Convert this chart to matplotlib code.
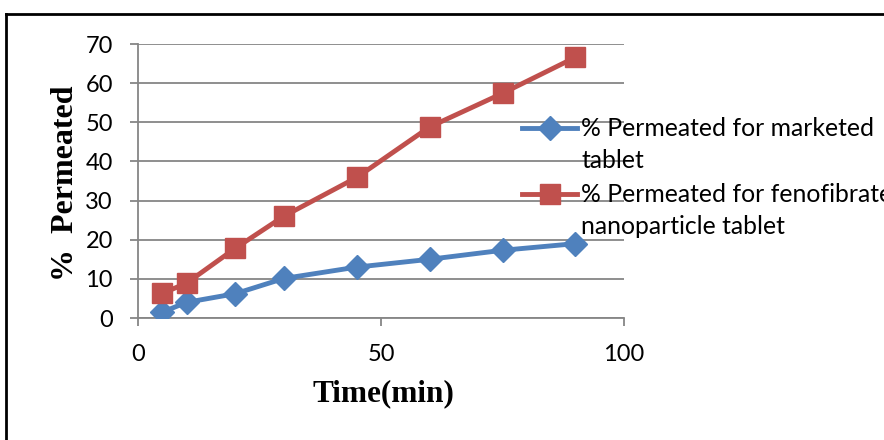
"""Permeation profile: marketed tablet vs fenofibrate nanoparticle tablet."""

import matplotlib

matplotlib.use("Agg")
import matplotlib.pyplot as plt
from matplotlib.lines import Line2D

TIME_MIN = [5, 10, 20, 30, 45, 60, 75, 90]
MARKETED = [1.5, 4.0, 6.2, 10.1, 13.0, 15.0, 17.3, 19.0]
NANO = [6.3, 8.9, 17.8, 26.0, 35.9, 48.8, 57.4, 66.6]
LABELS = [
    ["% Permeated for marketed", "tablet"],
    ["% Permeated for fenofibrate", "nanoparticle tablet"],
]

BLUE = "#4F81BD"
RED = "#C0504D"
GRID = "#868686"
W, H = 884, 440

fig = plt.figure(figsize=(W / 100, H / 100), dpi=100)
ax = fig.add_axes([138 / W, 1 - 318 / H, (624 - 138) / W, (318 - 44) / H])

ax.plot(TIME_MIN, MARKETED, color=BLUE, lw=3.5, marker="D", ms=12, mec=BLUE, zorder=3)
ax.plot(TIME_MIN, NANO, color=RED, lw=3.5, marker="s", ms=14, mec=RED, zorder=3)

ax.set_xlim(0, 100)
ax.set_ylim(0, 70)
ax.set_xticks([0, 50, 100])
ax.set_yticks(range(0, 71, 10))
ax.grid(axis="y", color=GRID, lw=1.3)
ax.set_axisbelow(True)
for side in ["top", "right"]:
    ax.spines[side].set_visible(False)
for side in ["left", "bottom"]:
    ax.spines[side].set_color(GRID)
    ax.spines[side].set_linewidth(1.3)
ax.tick_params(colors=GRID, width=1.3, length=6, labelcolor="black", labelsize=17)
ax.tick_params(axis="y", pad=12)
ax.tick_params(axis="x", pad=13)
for lbl in ax.get_xticklabels() + ax.get_yticklabels():
    lbl.set_family("Lato")

ax.set_xlabel("Time(min)", family="Liberation Serif", weight="bold", fontsize=22.5)
ax.set_ylabel("%  Permeated", family="Liberation Serif", weight="bold", fontsize=23)
ax.xaxis.set_label_coords(0.504, -0.225)
ax.yaxis.set_label_coords(-0.12, 0.49)

# hand-placed legend, handle aligned with the first text line like Excel does
for color, marker, ms, lines, y in [(BLUE, "D", 12, LABELS[0], 128), (RED, "s", 14, LABELS[1], 194)]:
    fig.add_artist(Line2D([522 / W, 577 / W], [1 - y / H] * 2, color=color, lw=3.5))
    fig.add_artist(Line2D([549.5 / W], [1 - y / H], color=color, marker=marker, ms=ms, mec=color))
    base = y + 8
    for i, line in enumerate(lines):
        fig.text(581 / W, 1 - (base + 32 * i) / H, line, family="Lato", fontsize=17.8,
                 va="baseline")

# outer chart frame
fig.add_artist(Line2D([6 / W, 6 / W], [0, 1 - 14 / H], color="black", lw=2))
fig.add_artist(Line2D([6 / W, 1], [1 - 14 / H] * 2, color="black", lw=2))

fig.savefig("out.png", dpi=100)
